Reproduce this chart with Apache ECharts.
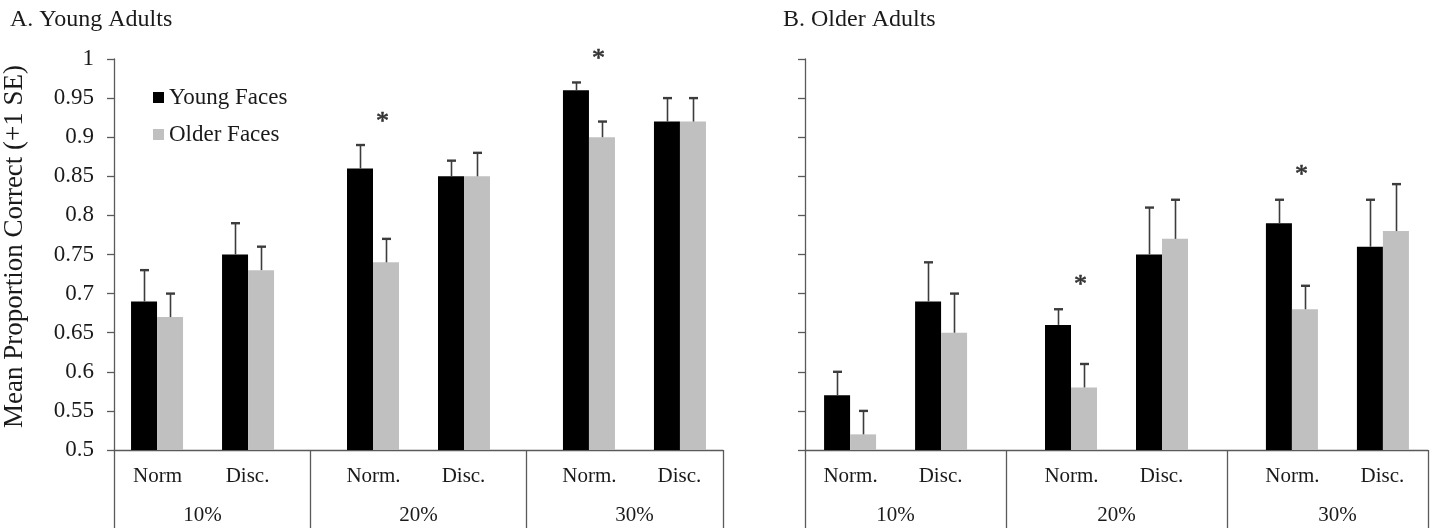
<!DOCTYPE html>
<html><head><meta charset="utf-8">
<script src="https://cdn.jsdelivr.net/npm/echarts@6/dist/echarts.min.js"></script>
<style>html,body{margin:0;padding:0;background:#fff}#c{width:1435px;height:529px}</style>
</head><body><div id="c"></div>
<script>
// ---------- data ----------
const groups = ['10%', '20%', '30%'];
const condLabelsA = [['Norm', 'Disc.'], ['Norm.', 'Disc.'], ['Norm.', 'Disc.']];
const condLabelsB = [['Norm.', 'Disc.'], ['Norm.', 'Disc.'], ['Norm.', 'Disc.']];
const seriesNames = ['Young Faces', 'Older Faces'];
const panelTitles = ['A. Young Adults', 'B. Older Adults'];
const yAxisName = 'Mean Proportion Correct (+1 SE)';

// Panel A: young adults
const youngNormA = [0.69, 0.86, 0.96];
const olderNormA = [0.67, 0.74, 0.90];
const youngDiscA = [0.75, 0.85, 0.92];
const olderDiscA = [0.73, 0.85, 0.92];
const seYoungNormA = [0.04, 0.03, 0.01];
const seOlderNormA = [0.03, 0.03, 0.02];
const seYoungDiscA = [0.04, 0.02, 0.03];
const seOlderDiscA = [0.03, 0.03, 0.03];
const starA = [null, 0.926, 1.006];

// Panel B: older adults
const youngNormB = [0.57, 0.66, 0.79];
const olderNormB = [0.52, 0.58, 0.68];
const youngDiscB = [0.69, 0.75, 0.76];
const olderDiscB = [0.65, 0.77, 0.78];
const seYoungNormB = [0.03, 0.02, 0.03];
const seOlderNormB = [0.03, 0.03, 0.03];
const seYoungDiscB = [0.05, 0.06, 0.06];
const seOlderDiscB = [0.05, 0.05, 0.06];
const starB = [null, 0.717, 0.858];

// ---------- style / layout ----------
const FONT = 'Liberation Serif';
const TEXT = '#1a1a1a';
const AXIS = '#5a5a5a';
const ERR = '#3c3c3c';
const COLORS = ['#000000', '#c0c0c0'];
const BW = 26, GAP = 39;
const X_MIN = -0.41, X_MAX = 2.41;
const SLOT = [-(GAP / 2 + 1.5 * BW), -(GAP / 2 + 0.5 * BW), GAP / 2 + 0.5 * BW, GAP / 2 + 1.5 * BW];
const STAR_DX = -36;

const pairs = arr => arr.map((v, i) => [i, v]);
function errData(vals, ses) {
  const d = [];
  vals.forEach((arr, s) => arr.forEach((v, g) => d.push([g, v, ses[s][g], s])));
  return d;
}
function starData(arr) {
  return arr.map((v, g) => [g, v]).filter(p => p[1] != null);
}

const lineStyle = { color: AXIS, width: 1.3 };

function xAxis(idx, labels) {
  return {
    gridIndex: idx, type: 'value', min: X_MIN, max: X_MAX,
    axisLine: { show: true, onZero: false, lineStyle },
    axisTick: { show: true, customValues: [X_MIN, 0.5, 1.5, X_MAX], length: 78, lineStyle },
    splitLine: { show: false },
    axisLabel: {
      customValues: [0, 1, 2], margin: 8,
      formatter: v => { const g = Math.round(v); return '{a|' + labels[g][0] + '}{b|' + labels[g][1] + '}\n{c|' + groups[g] + '}'; },
      rich: {
        a: { width: 90, align: 'center', fontFamily: FONT, fontSize: 21, lineHeight: 36, color: TEXT },
        b: { width: 90, align: 'center', fontFamily: FONT, fontSize: 21, lineHeight: 36, color: TEXT },
        c: { width: 180, align: 'center', fontFamily: FONT, fontSize: 21, lineHeight: 42, color: TEXT }
      }
    }
  };
}
function yAxis(idx, showLabels) {
  const a = {
    gridIndex: idx, type: 'value', min: 0.5, max: 1, interval: 0.05,
    axisLine: { show: true, onZero: false, lineStyle },
    axisTick: { show: true, length: 7, lineStyle },
    splitLine: { show: false },
    axisLabel: { show: showLabels, margin: 20, fontFamily: FONT, fontSize: 23, color: TEXT }
  };
  if (showLabels) {
    a.name = yAxisName; a.nameLocation = 'middle'; a.nameGap = 86;
    a.nameTextStyle = { fontFamily: FONT, fontSize: 27, color: TEXT, padding: [0, 0, 0, 16] };
  }
  return a;
}
function bars(idx, vals) {
  const mk = (name, data, color) => ({
    type: 'bar', name, xAxisIndex: idx, yAxisIndex: idx, data: pairs(data),
    barWidth: BW, barGap: 0, itemStyle: { color }, z: 2
  });
  return [
    mk(seriesNames[0], vals[0], COLORS[0]),
    mk(seriesNames[1], vals[1], COLORS[1]),
    { type: 'bar', xAxisIndex: idx, yAxisIndex: idx, data: [], barWidth: GAP, barGap: 0, silent: true },
    mk(seriesNames[0], vals[2], COLORS[0]),
    mk(seriesNames[1], vals[3], COLORS[1])
  ];
}
function errSeries(idx, vals, ses) {
  return {
    type: 'custom', xAxisIndex: idx, yAxisIndex: idx, data: errData(vals, ses), clip: false, z: 3, silent: true,
    encode: { x: 0, y: 1 },
    renderItem: (params, api) => {
      const g = api.value(0), v = api.value(1), se = api.value(2), s = api.value(3);
      const b = api.coord([g, v]), t = api.coord([g, v + se]);
      const x = Math.round(b[0] + SLOT[s]) + 0.5;
      return { type: 'group', children: [
        { type: 'line', shape: { x1: x, y1: b[1], x2: x, y2: t[1] }, style: { stroke: ERR, lineWidth: 1.6 } },
        { type: 'line', shape: { x1: x - 4.5, y1: t[1], x2: x + 4.5, y2: t[1] }, style: { stroke: ERR, lineWidth: 2.4 } }
      ] };
    }
  };
}
function starSeries(idx, arr) {
  return {
    type: 'custom', xAxisIndex: idx, yAxisIndex: idx, data: starData(arr), clip: false, z: 4, silent: true,
    encode: { x: 0, y: 1 },
    renderItem: (params, api) => {
      const c = api.coord([api.value(0), api.value(1)]);
      return { type: 'text', x: c[0] + STAR_DX, y: c[1] + 5,
        style: { text: '*', fontFamily: FONT, fontSize: 26, fill: '#333', stroke: '#333', lineWidth: 0.6, align: 'center', verticalAlign: 'middle' } };
    }
  };
}

const valsA = [youngNormA, olderNormA, youngDiscA, olderDiscA];
const sesA = [seYoungNormA, seOlderNormA, seYoungDiscA, seOlderDiscA];
const valsB = [youngNormB, olderNormB, youngDiscB, olderDiscB];
const sesB = [seYoungNormB, seOlderNormB, seYoungDiscB, seOlderDiscB];

const chart = echarts.init(document.getElementById('c'), null, { renderer: 'canvas' });
chart.setOption({
  animation: false,
  backgroundColor: '#ffffff',
  title: [
    { text: panelTitles[0], left: 5, top: 3, textStyle: { fontFamily: FONT, fontSize: 24, fontWeight: 'normal', color: TEXT } },
    { text: panelTitles[1], left: 778, top: 3, textStyle: { fontFamily: FONT, fontSize: 24, fontWeight: 'normal', color: TEXT } }
  ],
  legend: {
    data: seriesNames, orient: 'vertical', left: 148, top: 81, itemWidth: 11, itemHeight: 11, itemGap: 14,
    icon: 'rect', selectedMode: false,
    textStyle: { fontFamily: FONT, fontSize: 23, color: TEXT }
  },
  grid: [
    { left: 110, top: 59, width: 613, height: 391 },
    { left: 805, top: 59, width: 623, height: 391 }
  ],
  xAxis: [xAxis(0, condLabelsA), xAxis(1, condLabelsB)],
  yAxis: [yAxis(0, true), yAxis(1, false)],
  series: [
    ...bars(0, valsA), errSeries(0, valsA, sesA), starSeries(0, starA),
    ...bars(1, valsB), errSeries(1, valsB, sesB), starSeries(1, starB)
  ]
});
</script>
</body></html>
